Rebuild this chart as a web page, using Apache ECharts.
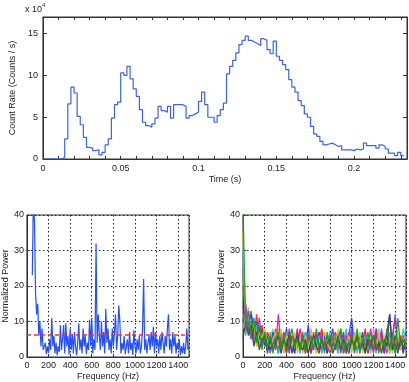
<!DOCTYPE html>
<html><head><meta charset="utf-8">
<script src="https://cdn.jsdelivr.net/npm/echarts@6/dist/echarts.min.js"></script>
<style>html,body{margin:0;padding:0;background:#fff}#c{width:409px;height:382px}</style>
</head><body><div id="c"></div>
<script>
// ---------- DATA ----------
const binWidth = 0.002;          // s
const timeMax = 0.234;           // s (axis extent)
// count rate per bin, in units of 10^4 counts/s (bin i starts at i*binWidth)
const countRate = [
  0, 0, 0, 0, 0, 0, 0.2, 2.4, 6.6, 8.6,
  7.9, 5.1, 4.1, 2.6, 1.4, 1.3, 1.0, 1.1, 0.5, 0.8,
  1.7, 2.4, 4.9, 6.5, 6.8, 10.3, 10.0, 11.1, 9.6, 8.4,
  7.5, 5.9, 4.4, 4.0, 3.8, 4.2, 4.9, 6.3, 5.8, 5.6,
  6.3, 4.9, 6.5, 6.5, 6.5, 6.3, 4.9, 5.2, 5.4, 5.6,
  6.9, 8.0, 6.5, 5.0, 5.0, 4.4, 5.2, 5.9, 6.7, 10.2,
  11.1, 11.8, 12.7, 13.7, 14.2, 14.7, 14.2, 14.0, 13.8, 13.6,
  14.4, 14.2, 13.1, 12.6, 14.1, 12.3, 11.8, 11.3, 10.7, 9.5,
  8.6, 8.0, 7.0, 6.4, 5.4, 5.0, 3.9, 3.0, 2.7, 2.1,
  1.7, 1.8, 1.9, 1.7, 1.5, 1.6, 1.1, 1.1, 1.1, 1.0,
  1.2, 1.1, 1.2, 1.9, 1.6, 1.6, 1.6, 1.3, 1.7, 1.5,
  1.2, 0.7, 0.7, 0.4, 0.8, 0.4
];
const countTicks = [0, 5, 10, 15];
const timeTicks = [0, 0.05, 0.1, 0.15, 0.2];

// observed power spectrum, frequencies 50..1500 Hz step 10
const specStartHz = 50;
const specStepHz = 10;
const observedPower = [
  23, 45, 38, 18, 12, 15, 6, 10, 3, 8,
  2, 1.5, 4, 0.8, 3, 1.2, 5, 2, 11, 3,
  6, 1, 4, 0.5, 3, 1.5, 9, 2, 5, 9,
  1, 9.5, 3, 6, 0.7, 8, 2, 6.5, 1, 7,
  3, 0.5, 4, 9.5, 2, 5, 1, 8, 3, 6,
  0.8, 4, 2, 10.5, 3, 11, 1, 5, 2, 32,
  4, 12, 6, 2, 10, 3, 7, 1, 13.5, 4,
  8, 2, 5, 1, 8, 3, 7, 12, 2, 6,
  14.5, 10, 1, 4, 2, 6, 0.8, 3, 5, 1,
  7, 2, 4, 0.6, 7.5, 3, 1, 5, 2, 6,
  1, 3, 8, 22, 2, 5, 1, 4, 6, 2,
  7, 3, 8.5, 1, 7, 3, 5, 1, 6, 2,
  7, 4, 1, 6, 3, 8, 12, 2, 5, 1,
  7, 3, 6, 1, 4, 2, 5, 0.5, 3, 1,
  4, 0.8, 3, 8, 2, 3
];
const thresholdPower = 6.3;

// simulated spectra, frequencies 0..1500 Hz step 25
const simStepHz = 25;
const simBlue = [14,11,9,12,7,10,5,8,3,6, 2,7,4,1,6,3,8,2,5,1, 7,3,6,2,9,1,5,3,7,2, 6,1,4,8,2,5,3,7,1,6, 11,2,5,3,7,1,6,4,2,8, 3,5,1,7,12,2,6,3,5,1, 7];
const simGreen = [42,8,13,6,11,4,9,2,7,3, 6,1,5,7,2,6,1,4,8,3, 5,2,7,1,4,6,2,8,3,5, 1,7,3,6,2,5,8,1,4,3, 6,2,8,1,5,3,7,2,6,4, 1,5,3,8,2,6,1,11,3,5, 2];
const simRed = [20,13,7,10,5,12,6,9,4,7, 5,3,8,2,6,4,1,7,3,6, 2,8,4,1,6,3,7,2,5,8, 3,6,1,5,7,2,4,6,1,7, 3,5,2,6,4,8,1,5,3,7, 2,6,4,1,7,3,5,2,6,4, 5];
const simCyan = [30,6,11,8,4,9,3,6,5,2, 7,4,6,1,5,3,7,4,2,6, 4,1,5,7,3,6,2,4,6,1, 5,3,7,2,6,1,5,3,8,2, 4,7,1,5,3,6,2,7,4,1, 6,3,5,2,7,4,1,6,3,8, 4];
const simMagenta = [10,15,8,5,9,6,11,4,6,3, 4,6,2,12,3,7,5,1,6,4, 8,2,5,3,6,1,4,7,2,6, 4,2,6,3,5,7,1,4,6,3, 7,1,4,6,2,5,3,8,1,6, 4,7,2,5,3,6,11,4,2,6, 3];
const simYellow = [35,9,12,7,10,3,7,5,8,4, 3,5,7,3,8,2,6,5,3,7, 1,5,3,6,2,7,4,1,5,3, 7,4,2,6,3,8,2,5,3,6, 2,6,3,7,1,4,6,3,5,2, 7,2,6,4,1,5,3,7,2,5, 6];
const simBlack = [5,10,6,9,3,7,2,5,6,1, 5,2,4,6,1,5,3,6,1,4, 6,3,2,5,1,4,6,3,1,5, 2,4,5,1,3,6,2,5,3,1, 5,3,6,2,4,1,5,3,6,2, 4,1,5,3,12,2,4,1,5,3, 2];
const simLightGreen = [12,9,14,7,5,10,4,8,6,2, 5,8,3,6,1,7,4,2,6,3, 5,1,6,4,8,2,5,1,7,3, 6,2,5,1,7,3,8,2,4,6, 1,5,3,7,2,6,4,1,5,3, 8,2,6,3,5,1,7,4,2,6, 3];
const simPink = [8,12,10,6,8,3,9,5,4,7, 2,6,3,8,4,1,5,7,2,6, 3,7,1,5,3,8,2,6,4,1, 7,5,2,6,3,1,6,4,7,2, 5,3,7,1,6,2,5,3,8,4, 2,6,1,5,3,7,2,6,4,1, 5];
const simPurple = [25,7,10,13,6,5,8,3,7,5, 1,4,6,2,7,5,2,8,4,1, 6,4,3,7,1,5,3,6,2,7, 4,1,6,3,5,2,7,1,5,4, 8,2,4,6,3,7,1,5,2,6, 3,8,2,6,1,4,12,3,6,2, 5];
const simSeries = [simLightGreen, simPink, simPurple, simBlue, simRed, simCyan, simMagenta, simYellow, simBlack, simGreen];
const simColors = ['#70e070', '#ff80b0', '#8040ff', '#2030ff', '#ff2020', '#10c8c8', '#c818c8', '#d0d010', '#404040', '#10a010'];

const freqTicks = [0, 200, 400, 600, 800, 1000, 1200, 1400];
const powerTicks = [0, 10, 20, 30, 40];

// ---------- CHART ----------
const FONT = 'Liberation Sans, Arial, sans-serif';
const TXT = '#222';
const lbl = (extra) => Object.assign({color: TXT, fontSize: 9, fontFamily: FONT}, extra || {});
const near = (v, arr) => arr.some(t => Math.abs(t - v) < 1e-6);

const histData = countRate.map((v, i) => [i * binWidth, v]);
histData.push([countRate.length * binWidth, countRate[countRate.length - 1]]);

const obsData = observedPower.map((v, i) => [specStartHz + i * specStepHz, v]);

const mkAxisLine = () => ({show: true, onZero: false, lineStyle: {color: '#333', width: 1}});
const mkTick = (len) => ({show: true, inside: true, length: len || 3, lineStyle: {color: '#333'}});
const mkDotted = () => ({show: true, lineStyle: {color: '#222', type: [1.5, 2.5], width: 1}});

const chart = echarts.init(document.getElementById('c'), null, {renderer: 'canvas'});
const option = {
  animation: false,
  backgroundColor: '#fff',
  grid: [
    {left: 24, top: 17, width: 383, height: 142, show: true, borderColor: '#333', borderWidth: 1},
    {left: 24, top: 215, width: 165, height: 142, show: true, borderColor: '#333', borderWidth: 1},
    {left: 243, top: 215, width: 164, height: 142, show: true, borderColor: '#333', borderWidth: 1}
  ],
  xAxis: [
    {gridIndex: 0, type: 'value', min: 0, max: timeMax, interval: 0.01, position: 'bottom',
      axisLine: mkAxisLine(), axisTick: mkTick(3), splitLine: {show: false},
      axisLabel: lbl({margin: 5, showMaxLabel: false, formatter: v => near(v, timeTicks) ? String(+v.toFixed(3)) : ''}),
      name: 'Time (s)', nameLocation: 'middle', nameGap: 16, nameTextStyle: lbl()},
    {gridIndex: 0, type: 'value', min: 0, max: timeMax, interval: 0.01, position: 'top',
      axisLine: mkAxisLine(), axisTick: mkTick(3), splitLine: {show: false}, axisLabel: {show: false}},
    {gridIndex: 1, type: 'value', min: 0, max: 1500, interval: 200,
      axisLine: mkAxisLine(), axisTick: mkTick(3), splitLine: mkDotted(),
      axisLabel: lbl({margin: 4, formatter: v => near(v, freqTicks) ? String(v) : ''}),
      name: 'Frequency (Hz)', nameLocation: 'middle', nameGap: 15, nameTextStyle: lbl()},
    {gridIndex: 2, type: 'value', min: 0, max: 1500, interval: 200,
      axisLine: mkAxisLine(), axisTick: mkTick(3), splitLine: mkDotted(),
      axisLabel: lbl({margin: 4, formatter: v => near(v, freqTicks) ? String(v) : ''}),
      name: 'Frequency (Hz)', nameLocation: 'middle', nameGap: 15, nameTextStyle: lbl()}
  ],
  yAxis: [
    {gridIndex: 0, type: 'value', min: 0, max: 17, interval: 5, position: 'left',
      axisLine: mkAxisLine(), axisTick: mkTick(4), splitLine: {show: false},
      axisLabel: lbl({margin: 5, showMaxLabel: false, formatter: v => near(v, countTicks) ? String(v) : ''}),
      name: 'Count Rate (Counts / s)', nameLocation: 'middle', nameGap: 14, nameTextStyle: lbl()},
    {gridIndex: 0, type: 'value', min: 0, max: 17, interval: 5, position: 'right',
      axisLine: mkAxisLine(), axisTick: mkTick(4), splitLine: {show: false}, axisLabel: {show: false}},
    {gridIndex: 1, type: 'value', min: 0, max: 40, interval: 10,
      axisLine: mkAxisLine(), axisTick: mkTick(3), splitLine: mkDotted(),
      axisLabel: lbl({margin: 3, formatter: v => near(v, powerTicks) ? String(v) : ''}),
      name: 'Normalized Power', nameLocation: 'middle', nameGap: 12, nameTextStyle: lbl()},
    {gridIndex: 2, type: 'value', min: 0, max: 40, interval: 10,
      axisLine: mkAxisLine(), axisTick: mkTick(3), splitLine: mkDotted(),
      axisLabel: lbl({margin: 3, formatter: v => near(v, powerTicks) ? String(v) : ''}),
      name: 'Normalized Power', nameLocation: 'middle', nameGap: 13, nameTextStyle: lbl()}
  ],
  graphic: [
    {type: 'text', left: 25, top: 5, style: {text: 'x 10', fill: TXT, fontSize: 9, fontFamily: FONT}},
    {type: 'text', left: 42, top: 2, style: {text: '4', fill: TXT, fontSize: 6, fontFamily: FONT}}
  ],
  series: [
    {type: 'line', xAxisIndex: 0, yAxisIndex: 0, step: 'end', data: histData, showSymbol: false,
      lineStyle: {color: '#3d63e6', width: 1.2}, z: 3},
    {type: 'line', xAxisIndex: 2, yAxisIndex: 2, data: obsData, showSymbol: false, clip: true,
      lineStyle: {color: '#2550f5', width: 1.2},
      markLine: {silent: true, symbol: 'none', label: {show: false},
        lineStyle: {color: '#ee3030', type: [4, 3], width: 1.5},
        data: [{yAxis: thresholdPower}]}, z: 3},
    ...simSeries.map((arr, k) => ({
      type: 'line', xAxisIndex: 3, yAxisIndex: 3, showSymbol: false, clip: true,
      data: arr.map((v, i) => [i * simStepHz, v]),
      lineStyle: {color: simColors[k], width: 1.3, opacity: 0.9}, z: 3
    }))
  ]
};
chart.setOption(option);
</script>
</body></html>
